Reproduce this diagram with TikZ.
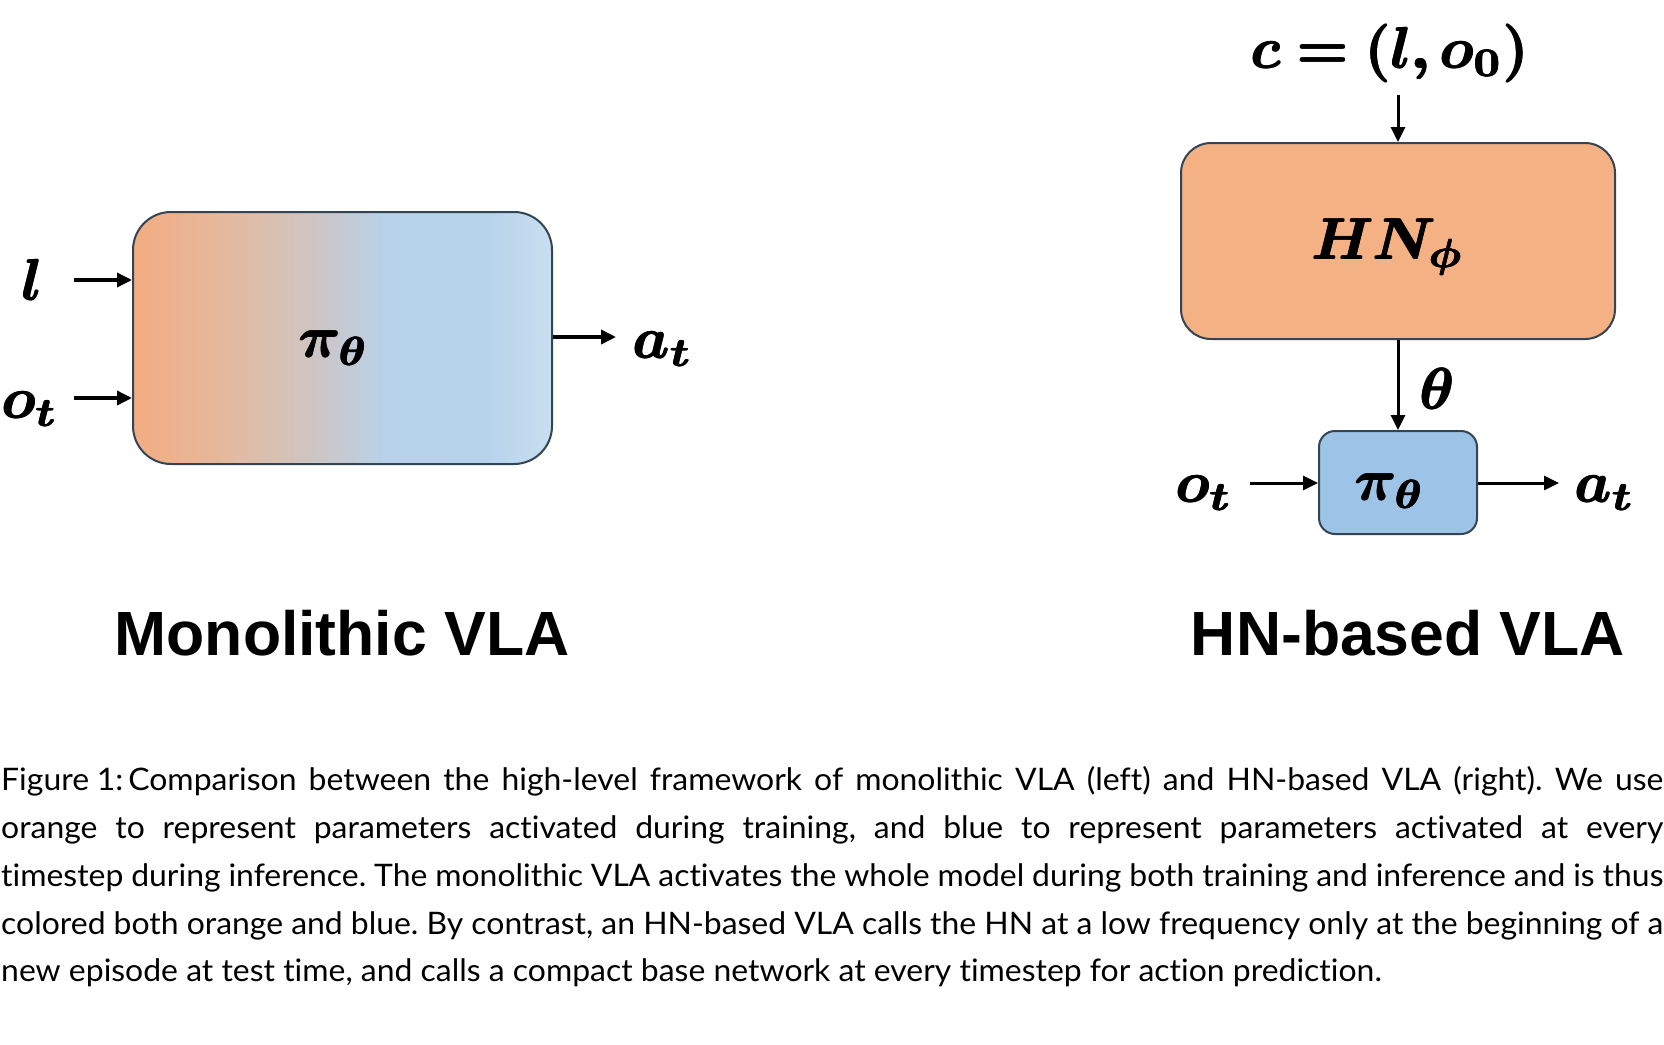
\documentclass[tikz,border=0pt]{standalone}
\usepackage{bm}
\usepackage{graphicx}
\usepackage{fontspec}
\newfontfamily\capfont[FakeStretch=1.03,Ligatures={NoCommon}]{Lato}
\newfontfamily\titlefont{Liberation Sans}
\usetikzlibrary{arrows.meta}
\definecolor{oL}{HTML}{F2AC82}
\definecolor{oB}{HTML}{EFB08A}
\definecolor{tA}{HTML}{DDBEAB}
\definecolor{gA}{HTML}{C8C8CD}
\definecolor{bA}{HTML}{B7D2EA}
\definecolor{bB}{HTML}{B6D3EC}
\definecolor{bR}{HTML}{C9DEF0}
\definecolor{hnfill}{HTML}{F4B183}
\definecolor{pifill}{HTML}{9DC3E6}
\definecolor{edge}{HTML}{334455}
\pgfdeclarehorizontalshading{mono}{100bp}{color(0bp)=(oL); color(25bp)=(oL); color(28.5bp)=(oB); color(40bp)=(tA); color(49bp)=(gA); color(55bp)=(bA); color(67bp)=(bB); color(75bp)=(bR); color(100bp)=(bR)}
\newcommand{\heavy}[1]{\rlap{$\bm{#1}$}\rlap{\raisebox{0.12pt}{$\bm{#1}$}}\kern0.22pt\rlap{$\bm{#1}$}\raisebox{0.12pt}{$\bm{#1}$}}
\newcommand{\bigmath}[1]{\scalebox{5.8}{\heavy{#1}}}
\begin{document}
\begin{tikzpicture}[x=1pt,y=-1pt,
  mathtxt/.style={inner sep=0pt, anchor=base},
  boxst/.style={draw=edge, line width=2pt, inner sep=0pt},
  arr/.style={line width=3.5pt, -{Triangle[length=15pt,width=14pt]}},
  title/.style={inner sep=0pt, anchor=base, font=\titlefont\bfseries\fontsize{62.5}{64}\selectfont},
  capline/.style={inner sep=0pt, anchor=base west, font=\capfont\fontsize{31}{32}\selectfont\frenchspacing}]
\useasboundingbox[fill=white] (0,0) rectangle (1664,1044);

% ---------- Monolithic VLA ----------
\node[boxst, shading=mono, rounded corners=38pt, minimum width=419pt, minimum height=252pt] (mono) at (342.5,338) {};
\node[mathtxt] (mpi) at (334,357) {\bigmath{\pi_{\theta}}};
\node[mathtxt] (ml) at (32,300) {\bigmath{l}};
\node[mathtxt] (mo) at (30,418) {\bigmath{o_{t}}};
\node[mathtxt] (ma) at (663,358) {\bigmath{a_{t}}};
\coordinate (mlin) at (74,280);
\coordinate (moin) at (74,398);
\coordinate (maout) at (616,337);
\draw[arr] (mlin) -- (mlin -| mono.west);
\draw[arr] (moin) -- (moin -| mono.west);
\draw[arr] (maout -| mono.east) -- (maout);
\node[title] (t1) at (342,655) {Monolithic VLA};

% ---------- HN-based VLA ----------
\node[boxst, fill=hnfill, rounded corners=30pt, minimum width=434pt, minimum height=196pt] (hn) at (1398,241) {};
\node[boxst, fill=pifill, rounded corners=16pt, minimum width=158pt, minimum height=103pt] (pib) at (1398,482.5) {};
\node[mathtxt] (cin) at (1390,68) {\bigmath{c = (l, o_{0})}};
\node[mathtxt] (hnt) at (1388,259) {\bigmath{HN_{\phi}}};
\node[mathtxt] (th) at (1437,409) {\bigmath{\theta}};
\node[mathtxt] (pit) at (1390,500) {\bigmath{\pi_{\theta}}};
\node[mathtxt] (ro) at (1204,502) {\bigmath{o_{t}}};
\node[mathtxt] (ra) at (1605,502) {\bigmath{a_{t}}};
\coordinate (ctop) at (1398,95);
\coordinate (roin) at (1250,483);
\coordinate (raout) at (1559,483);
\draw[arr, line width=3pt] (ctop) -- (hn.north);
\draw[arr, line width=3pt] (hn.south) -- (pib.north);
\draw[arr, line width=3pt] (roin) -- (roin -| pib.west);
\draw[arr, line width=3pt] (raout -| pib.east) -- (raout);
\node[title] (t2) at (1408,655) {HN-based VLA};

% ---------- Caption ----------
\node[capline] (c1) at (1,790) {\makebox[1662pt][s]{Figure\kern0.25em 1:\kern5pt Comparison between the high-level framework of monolithic VLA (left) and HN-based VLA (right). We use}};
\node[capline] (c2) at (1,838) {\makebox[1662pt][s]{orange to represent parameters activated during training, and blue to represent parameters activated at every}};
\node[capline] (c3) at (1,886) {\makebox[1662pt][s]{timestep during inference. The monolithic VLA activates the whole model during both training and inference and is thus}};
\node[capline] (c4) at (1,934) {\makebox[1662pt][s]{colored both orange and blue. By contrast, an HN-based VLA calls the HN at a low frequency only at the beginning of a}};
\node[capline] (c5) at (1,981) {new episode at test time, and calls a compact base network at every timestep for action prediction.};
\end{tikzpicture}
\end{document}
